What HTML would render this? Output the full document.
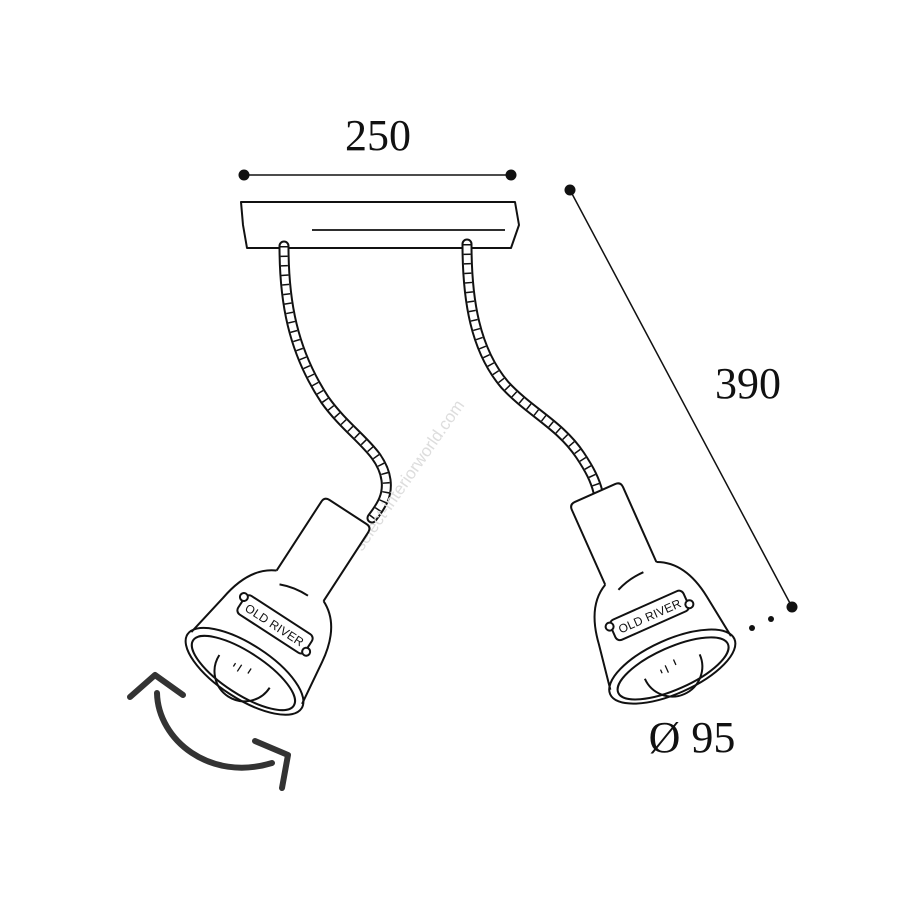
<!DOCTYPE html>
<html><head><style>html,body{margin:0;padding:0;background:#fff}svg{display:block}</style></head>
<body>
<svg width="900" height="900" viewBox="0 0 900 900" xmlns="http://www.w3.org/2000/svg">
<defs>
<g id="lamp" fill="none" stroke="#111" stroke-width="2" stroke-linejoin="round">
  <path d="M-28,88 L-28,6 Q-28,0 -22,0 L22,0 Q28,0 28,6 L28,88" fill="#fff"/>
  <path d="M-28,88 C-42,95 -54,110 -58,140 L-66,186 M28,88 C44,95 56,110 60,140 L66,186"/>
  <path d="M-18,98 Q-4,92 12,92" />
  <path d="M-30,190 A30,30 0 0 0 30,190" />
  <path d="M-6,186 l0,8 M4,184 l0,6 M-12,188 l0,4" stroke-width="1.3"/>
  <ellipse cx="0" cy="190" rx="68" ry="27"/>
  <ellipse cx="0" cy="192" rx="60" ry="21"/>
  <rect x="-40" y="123" width="80" height="22" rx="5" fill="#fff"/>
  <circle cx="-41" cy="128" r="4" fill="#fff"/>
  <circle cx="41" cy="140" r="4" fill="#fff"/>
  <text x="0" y="139" text-anchor="middle" font-family="Liberation Sans, sans-serif" font-size="12" fill="#111" stroke="none" letter-spacing="0.3">OLD RIVER</text>
</g>
</defs>
<g font-family="Liberation Serif, serif" fill="#111">
  <text x="378" y="150" font-size="44" text-anchor="middle">250</text>
  <text x="748" y="398" font-size="44" text-anchor="middle">390</text>
  <text x="692" y="752" font-size="44" text-anchor="middle">Ø 95</text>
</g>
<g stroke="#111" stroke-width="1.5">
  <line x1="244" y1="175" x2="511" y2="175"/>
  <line x1="570" y1="190" x2="792" y2="607"/>
</g>
<g fill="#111">
  <circle cx="244" cy="175" r="5.5"/><circle cx="511" cy="175" r="5.5"/>
  <circle cx="570" cy="190" r="5.5"/><circle cx="792" cy="607" r="5.5"/>
  <circle cx="752" cy="628" r="3"/><circle cx="771" cy="619" r="3"/>
</g>
<path d="M241,202 L515,202 L519,225 L511,248 L247,248 L243,225 Z" fill="#fff" stroke="#111" stroke-width="2" stroke-linejoin="round"/>
<line x1="312" y1="230" x2="505" y2="230" stroke="#111" stroke-width="1.8"/>
<g fill="none" stroke-linecap="round">
  <path d="M284,246 C284,300 292,350 325,400 C350,435 382,450 386,480 C388,495 382,505 372,518" stroke="#111" stroke-width="11"/>
  <path d="M284,246 C284,300 292,350 325,400 C350,435 382,450 386,480 C388,495 382,505 372,518" stroke="#fff" stroke-width="7"/>
  <path d="M284,246 C284,300 292,350 325,400 C350,435 382,450 386,480 C388,495 382,505 372,518" stroke="#111" stroke-width="7" stroke-dasharray="1.5 8" stroke-linecap="butt"/>
  <path d="M467,244 C467,300 475,350 505,385 C530,412 560,425 580,455 C590,470 595,480 598,492" stroke="#111" stroke-width="11"/>
  <path d="M467,244 C467,300 475,350 505,385 C530,412 560,425 580,455 C590,470 595,480 598,492" stroke="#fff" stroke-width="7"/>
  <path d="M467,244 C467,300 475,350 505,385 C530,412 560,425 580,455 C590,470 595,480 598,492" stroke="#111" stroke-width="7" stroke-dasharray="1.5 8" stroke-linecap="butt"/>
</g>
<text x="0" y="0" transform="translate(362,552) rotate(-55)" font-family="Liberation Sans, sans-serif" font-size="17" fill="#ddd">select-interiorworld.com</text>
<use href="#lamp" transform="translate(348,512) rotate(33)"/>
<use href="#lamp" transform="translate(595,493) rotate(-24)"/>
<g fill="none" stroke="#333" stroke-width="6" stroke-linecap="round" stroke-linejoin="round">
  <path d="M157,693 C158,740 210,782 272,763"/>
  <path d="M130,697 L155,675 L183,695"/>
  <path d="M255,741 L288,755 L282,788"/>
</g>
</svg>
</body></html>
